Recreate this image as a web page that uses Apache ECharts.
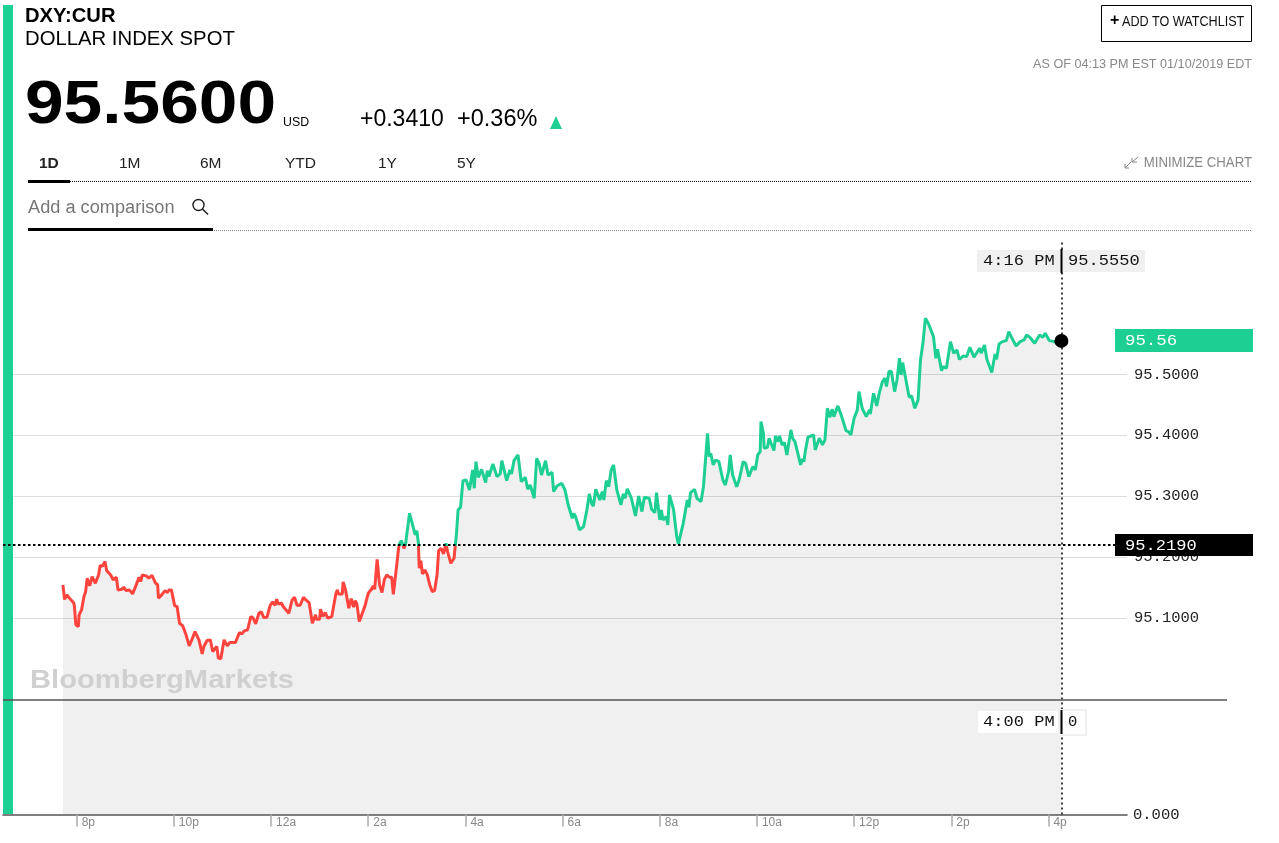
<!DOCTYPE html>
<html>
<head>
<meta charset="utf-8">
<title>DXY:CUR</title>
<style>html,body{margin:0;padding:0;background:#fff}#c{width:1279px;height:843px}</style>
<script src="https://cdn.jsdelivr.net/npm/echarts@6/dist/echarts.min.js"></script>
</head>
<body>
<div id="c"></div>
<script>
// minutes after 8:00 PM
const priceMinutes = [-17,-15,-12,-10,-8,-4,-3,-1,2,3,6,9,11,13,16,19,23,27,29,32,35,37,42,45,49,51,56,58,61,65,69,73,77,79,81,86,89,93,97,100,101,105,109,112,114,117,121,124,127,131,135,139,143,146,151,155,157,161,165,168,170,173,175,178,182,186,189,193,196,201,204,207,211,215,218,221,225,228,231,235,239,242,245,247,249,253,255,257,262,263,266,269,272,276,280,283,287,291,295,296,300,301,304,307,310,315,320,322,323,328,329,332,336,339,342,344,346,349,351,356,360,364,366,368,371,374,377,380,383,386,389,391,395,398,401,404,406,411,416,418,420,422,423,425,427,430,433,436,439,442,445,447,450,453,456,458,462,466,469,471,474,477,481,485,489,491,493,496,500,505,507,509,514,519,523,525,531,535,537,540,545,549,551,554,557,560,565,568,571,574,579,582,587,589,593,599,603,607,612,614,616,621,626,630,633,636,638,641,646,649,651,654,657,660,663,667,669,672,675,677,680,685,687,690,694,696,698,701,707,710,714,716,720,722,724,728,730,732,737,741,743,749,754,756,758,763,766,771,774,779,781,783,786,789,793,798,801,805,807,810,812,815,818,820,823,826,830,831,835,838,841,844,845,848,849,853,855,861,863,866,868,871,874,877,882,884,887,894,896,898,900,903,905,910,912,917,921,924,927,930,933,935,940,944,950,953,956,960,964,966,970,975,979,980,984,988,991,995,998,1000,1003,1006,1010,1013,1016,1018,1020,1024,1028,1031,1035,1039,1042,1045,1048,1050,1052,1054,1058,1061,1063,1068,1070,1074,1079,1083,1087,1090,1095,1099,1103,1108,1115,1117,1121,1124,1126,1130,1134,1136,1139,1143,1148,1151,1154,1160,1165,1170,1173,1177,1183,1189,1193,1196,1201,1207,1216];
const priceValues = [95.1543,95.1308,95.1379,95.1341,95.1363,95.1253,95.1215,95.0887,95.0859,95.1051,95.1133,95.1352,95.1434,95.1653,95.1527,95.1680,95.1570,95.1707,95.1860,95.1855,95.1926,95.1778,95.1707,95.1625,95.1669,95.1461,95.1472,95.1505,95.1450,95.1461,95.1395,95.1527,95.1669,95.1598,95.1707,95.1691,95.1653,95.1702,95.1581,95.1543,95.1324,95.1379,95.1450,95.1417,95.1461,95.1461,95.1199,95.1188,95.0914,95.0870,95.0723,95.0542,95.0668,95.0777,95.0641,95.0411,95.0531,95.0630,95.0641,95.0449,95.0433,95.0531,95.0340,95.0329,95.0641,95.0542,95.0597,95.0597,95.0597,95.0761,95.0739,95.0788,95.0805,95.1023,95.0996,95.0903,95.1078,95.1100,95.1007,95.1013,95.1209,95.1264,95.1209,95.1308,95.1231,95.1242,95.1188,95.1199,95.1078,95.1078,95.1297,95.1341,95.1209,95.1209,95.1341,95.1297,95.1253,95.0914,95.1051,95.0980,95.0980,95.1144,95.1023,95.1089,95.0996,95.1023,95.1395,95.1461,95.1395,95.1395,95.1592,95.1461,95.1160,95.1319,95.1177,95.1286,95.1231,95.0941,95.0936,95.1199,95.1406,95.1472,95.1527,95.1472,95.1964,95.1543,95.1417,95.1636,95.1707,95.1669,95.1669,95.1390,95.1844,95.2200,95.2271,95.2145,95.2200,95.2719,95.2473,95.2364,95.2435,95.2227,95.1817,95.1942,95.1724,95.1789,95.1707,95.1543,95.1434,95.1450,95.1707,95.2107,95.2145,95.2052,95.2227,95.2090,95.1899,95.1981,95.2391,95.2774,95.2818,95.3255,95.3266,95.3102,95.3430,95.3130,95.3567,95.3310,95.3441,95.3223,95.3420,95.3321,95.3529,95.3321,95.3365,95.3584,95.3255,95.3430,95.3365,95.3584,95.3677,95.3239,95.3212,95.3310,95.3113,95.3184,95.2966,95.3622,95.3540,95.3348,95.3584,95.3348,95.3392,95.3075,95.3168,95.3212,95.3102,95.2856,95.2637,95.2719,95.2665,95.2446,95.2501,95.2774,95.3037,95.2873,95.2840,95.3113,95.2938,95.3075,95.2938,95.3255,95.3157,95.3430,95.3513,95.3102,95.3075,95.2856,95.3037,95.2966,95.3119,95.2966,95.2993,95.2676,95.3004,95.3020,95.2747,95.2982,95.2966,95.2785,95.2730,95.3059,95.2610,95.2774,95.2610,95.2665,95.2528,95.3020,95.2785,95.2336,95.2216,95.2555,95.2938,95.2818,95.3059,95.3113,95.2966,95.2911,95.3157,95.4032,95.3649,95.3704,95.3513,95.3595,95.3567,95.3266,95.3184,95.3403,95.3677,95.3348,95.3365,95.3157,95.3266,95.3266,95.3567,95.3540,95.3321,95.3350,95.3487,95.3432,95.3678,95.3733,95.4225,95.4034,95.3788,95.3804,95.3952,95.3750,95.3990,95.3897,95.3990,95.3843,95.3881,95.3678,95.4089,95.3952,95.3897,95.3514,95.3607,95.3569,95.3760,95.3968,95.3952,95.4007,95.3760,95.3952,95.3843,95.3925,95.4444,95.4297,95.4428,95.4307,95.4483,95.4335,95.4078,95.4061,95.4007,95.4280,95.4417,95.4718,95.4444,95.4307,95.4417,95.4351,95.4690,95.4483,95.4690,95.4882,95.4937,95.4800,95.5046,95.5046,95.4718,95.4909,95.5265,95.4991,95.5194,95.4909,95.4625,95.4647,95.4444,95.4581,95.5237,95.5511,95.5921,95.5894,95.5828,95.5839,95.5620,95.5265,95.5412,95.5062,95.5128,95.5101,95.5538,95.5347,95.5401,95.5248,95.5303,95.5292,95.5445,95.5281,95.5429,95.5347,95.5484,95.5248,95.5265,95.5030,95.5336,95.5248,95.5500,95.5538,95.5555,95.5702,95.5620,95.5467,95.5538,95.5566,95.5648,95.5609,95.5511,95.5648,95.5609,95.5675,95.5555,95.5538,95.5550];
const basePrice = 95.219;
const lastQuote = [1216, 95.555];
const priceTicks = [95.1, 95.2, 95.3, 95.4, 95.5];
const timeTicks = [0,120,240,360,480,600,720,840,960,1080,1200];
const timeLabels = ['8p','10p','12a','2a','4a','6a','8a','10a','12p','2p','4p'];
const tabLabels = ['1D','1M','6M','YTD','1Y','5Y'];

const GREEN='#1dcf93', RED='#ff433d', SANS='"Liberation Sans",Arial,sans-serif', MONO='"Liberation Mono",monospace';
const chart = echarts.init(document.getElementById('c'), null, {renderer:'canvas'});

function T(text,x,y,size,o){o=o||{};return {type:'text',z:o.z||100,x:x,y:y,scaleX:o.sx||1,originX:0,
  style:{text:text,font:(o.w||'normal')+' '+size+'px '+(o.f||SANS),fill:o.c||'#000',textAlign:o.a||'left',textVerticalAlign:'middle'}};}
function R(x,y,w,h,fill,o){o=o||{};return {type:'rect',z:o.z||99,shape:{x:x,y:y,width:w,height:h},style:{fill:fill,stroke:o.s||null,lineWidth:o.lw||0}};}
function L(x1,y1,x2,y2,c,lw,dash){return {type:'line',z:99,shape:{x1:x1,y1:y1,x2:x2,y2:y2},style:{stroke:c,lineWidth:lw,lineDash:dash||null}};}

const tabX=[39,119,200,285,378,457];
const graphics=[
  R(3,5,10,809,GREEN,{z:1}),
  T('DXY:CUR',25,16,20,{w:'bold',sx:1.01}),
  T('DOLLAR INDEX SPOT',25,39.5,20,{sx:1.015}),
  T('95.5600',25,106,62,{w:'bold',sx:1.12}),
  T('USD',283,122,13,{sx:.95}),
  T('+0.3410',360,119.5,23),
  T('+0.36%',457,119.5,23.5),
  {type:'polygon',z:99,shape:{points:[[550,129],[562,129],[556,116]]},style:{fill:GREEN}},
  L(28,181.5,1252,181.5,'#000',1,[1,1]),
  R(28,180,42,3,'#000'),
  T('Add a comparison',28,208,18,{c:'#777',sx:1.01}),
  {type:'circle',z:99,shape:{cx:198.5,cy:205,r:5.5},style:{fill:null,stroke:'#222',lineWidth:1.4}},
  L(202.5,209,208,214.5,'#222',1.6),
  L(28,230.5,1252,230.5,'#888',1,[1,1]),
  R(28,228,185,3,'#000'),
  R(1101.5,5.5,150,36,'#fff',{s:'#000',lw:1}),
  T('+',1110,21,16,{w:'bold'}),
  T('ADD TO WATCHLIST',1122,22,14,{c:'#111',sx:.9}),
  T('AS OF 04:13 PM EST 01/10/2019 EDT',1252,64,13.5,{c:'#888',a:'right',sx:.935}),
  T('MINIMIZE CHART',1252,163,14.5,{c:'#888',a:'right',sx:.91}),
  L(1125,168,1131,162,'#888',1),L(1125,164,1125,168,'#888',1),L(1125,168,1129,168,'#888',1),
  L(1138,157,1132,162,'#888',1),L(1132,158,1132,162,'#888',1),L(1132,162,1137,162,'#888',1),
  R(977,250,168,22,'#f0f0f0'),
  T('4:16 PM',983,261,15.5,{f:MONO,c:'#111',sx:1.1}),
  T('95.5550',1068,261,15.5,{f:MONO,c:'#111',sx:1.1}),
  R(1060.5,249,2,24,'#000',{z:101}),
  R(1115,329,138,23,GREEN),
  T('95.56',1125,341,15.5,{f:MONO,c:'#fff',sx:1.12}),
  R(1115,534,138,22,'#000'),
  T('95.2190',1125,546,15.5,{f:MONO,c:'#fff',sx:1.1}),
  T('BloombergMarkets',30,681,26.5,{w:'bold',c:'#d0d0d0',sx:1.1}),
  L(3,700,1227,700,'#555',1.5),
  R(978,711,80,22,'#fff'),
  T('4:00 PM',983,722,15.5,{f:MONO,c:'#111',sx:1.1}),
  R(1062,710,24,25,'#fff',{s:'#f0f0f0',lw:2}),
  R(1060.5,710,2,24,'#000',{z:101}),
  T('0',1068,722,15.5,{f:MONO,c:'#111'})
];
tabLabels.forEach((t,i)=>graphics.push(T(t,tabX[i],163.5,15.5,{w:i===0?'bold':'normal',c:'#222'})));

chart.setOption({
  animation:false,
  backgroundColor:'#fff',
  grid:{left:3,right:152,top:240,bottom:28.5,containLabel:false},
  xAxis:{type:'value',min:-91,max:1297,splitLine:{show:false},
    axisLine:{show:true,onZero:false,lineStyle:{color:'#555',width:1.5}},
    axisTick:{show:true,length:12,customValues:timeTicks,lineStyle:{color:'#aaa',width:1.5}},
    axisLabel:{customValues:timeTicks,margin:2,align:'left',padding:[0,0,0,5],
      color:'#888',fontFamily:SANS,fontSize:12,
      formatter:v=>timeLabels[timeTicks.indexOf(v)]}},
  yAxis:[{type:'value',min:94.7773,max:95.7207,position:'right',
    axisLine:{show:false},
    axisTick:{show:false,customValues:priceTicks},
    splitLine:{show:true,lineStyle:{color:'#ddd',width:1.2}},
    axisLabel:{customValues:priceTicks,margin:7,color:'#222',fontFamily:MONO,fontSize:15.5,padding:[0,0,3,0],formatter:v=>v.toFixed(4)}},
   {type:'value',min:0,max:1,position:'right',
    axisLine:{show:false},axisTick:{show:false},splitLine:{show:false},
    axisLabel:{customValues:[0],margin:6,color:'#222',fontFamily:MONO,fontSize:15.5,padding:[0,0,2,0],formatter:v=>v.toFixed(3)}}],
  visualMap:{type:'piecewise',show:false,dimension:1,seriesIndex:0,
    pieces:[{min:94.7773,max:basePrice,color:RED},{min:basePrice,max:95.7207,color:GREEN}]},
  series:[
    {type:'line',name:'DXY',showSymbol:false,symbol:'none',smooth:false,
      data:priceMinutes.map((m,i)=>[m,priceValues[i]]),
      lineStyle:{width:3},
      areaStyle:{color:'#000',opacity:0.058,origin:'start'},
      markLine:{silent:true,symbol:'none',label:{show:false},animation:false,data:[
        {yAxis:basePrice,lineStyle:{color:'#000',type:[2.5,2.5],width:2}},
        {xAxis:lastQuote[0],lineStyle:{color:'#000',type:[2,3],width:1.5}}
      ]}},
    {type:'scatter',name:'Last',data:[lastQuote],symbol:'circle',symbolSize:14,z:20,itemStyle:{color:'#000',opacity:1}}
  ],
  graphic:graphics
});
</script>
</body>
</html>
